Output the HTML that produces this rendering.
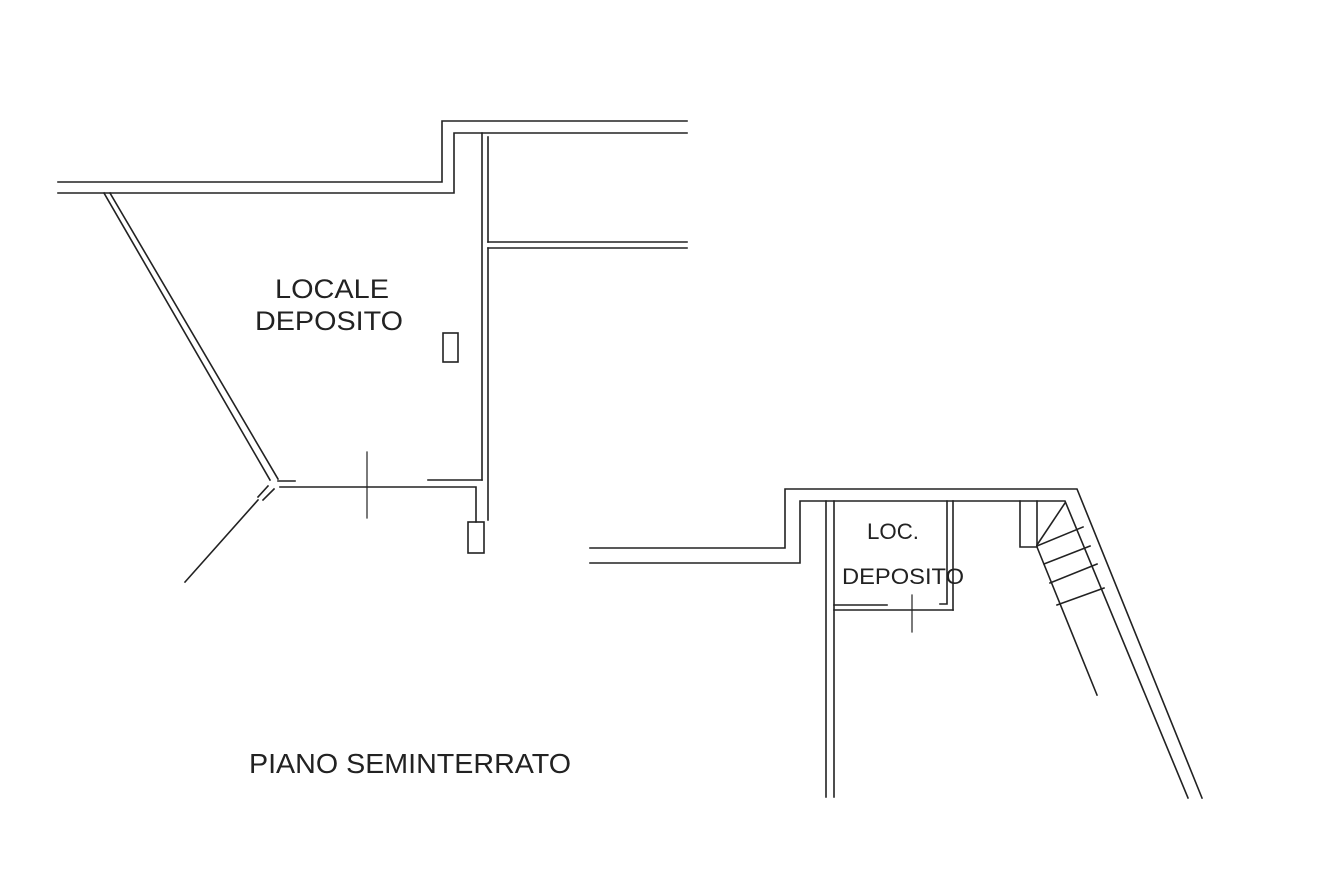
<!DOCTYPE html>
<html><head><meta charset="utf-8"><style>
html,body{margin:0;padding:0;background:#fff;}
svg{display:block}
text{font-family:"Liberation Sans",sans-serif;fill:#222;}
</style></head><body>
<svg width="1318" height="875" viewBox="0 0 1318 875" xmlns="http://www.w3.org/2000/svg">
<g stroke="#222" stroke-width="1.6" fill="none" stroke-linecap="square">
<polyline points="58,182 442,182 442,121 687,121"/>
<polyline points="58,193 454,193 454,133 687,133"/>
<line x1="482" y1="133" x2="482" y2="480"/>
<line x1="488" y1="137" x2="488" y2="242"/>
<line x1="488" y1="248" x2="488" y2="520"/>
<line x1="488" y1="242" x2="687" y2="242"/>
<line x1="488" y1="248" x2="687" y2="248"/>
<line x1="104" y1="193" x2="270" y2="480"/>
<line x1="110" y1="193" x2="278" y2="479"/>
<polyline points="278,481 295,481"/>
<line x1="428" y1="480" x2="482" y2="480"/>
<polyline points="280,487 476,487 476,522"/>
<line x1="268" y1="486" x2="258" y2="497"/>
<line x1="274" y1="489" x2="263" y2="500"/>
<line x1="258" y1="500" x2="185" y2="582"/>
<line x1="367" y1="452" x2="367" y2="518" stroke-width="1.2"/>
<rect x="443" y="333" width="15" height="29"/>
<rect x="468" y="522" width="16" height="31"/>
<polyline points="590,548 785,548 785,489 1077,489 1202,798"/>
<polyline points="590,563 800,563 800,501 1065,501 1188,798"/>
<line x1="826" y1="501" x2="826" y2="797"/>
<line x1="834" y1="501" x2="834" y2="797"/>
<polyline points="947,501 947,604 940,604"/>
<line x1="953" y1="501" x2="953" y2="610"/>
<line x1="834" y1="610" x2="953" y2="610"/>
<line x1="834" y1="605" x2="887" y2="605"/>
<line x1="912" y1="595" x2="912" y2="632" stroke-width="1.2"/>
<polyline points="1020,501 1020,547 1037,547 1037,501"/>
<line x1="1037" y1="545" x2="1065" y2="503"/>
<line x1="1037" y1="547" x2="1097" y2="695"/>
<line x1="1037" y1="546" x2="1083" y2="527"/>
<line x1="1044" y1="564" x2="1090" y2="546"/>
<line x1="1050" y1="583" x2="1097" y2="564"/>
<line x1="1057" y1="605" x2="1104" y2="588"/>
</g>
<text x="275" y="298" font-size="27" textLength="114" lengthAdjust="spacingAndGlyphs">LOCALE</text>
<text x="255" y="330" font-size="27" textLength="148" lengthAdjust="spacingAndGlyphs">DEPOSITO</text>
<text x="867" y="539" font-size="22" textLength="52" lengthAdjust="spacingAndGlyphs">LOC.</text>
<text x="842" y="584" font-size="22" textLength="122" lengthAdjust="spacingAndGlyphs">DEPOSITO</text>
<text x="249" y="773" font-size="28" textLength="322" lengthAdjust="spacingAndGlyphs">PIANO SEMINTERRATO</text>
</svg>
</body></html>
